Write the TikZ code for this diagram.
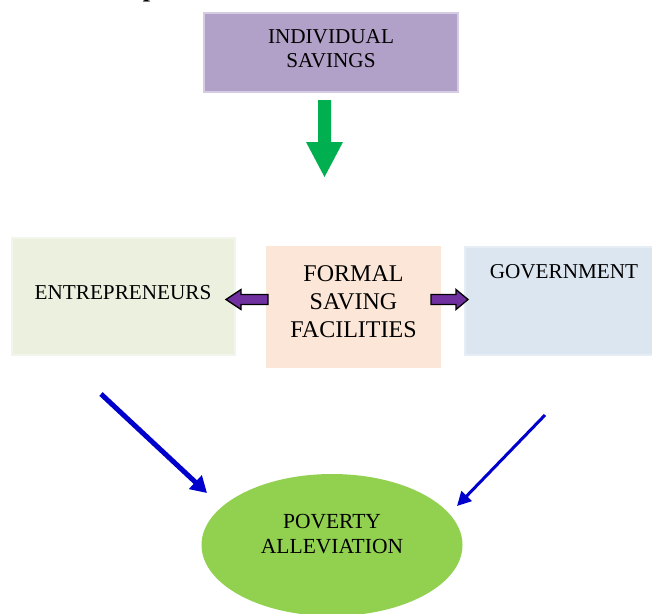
\documentclass[tikz,border=0pt]{standalone}
\usepackage{fontspec}
\setmainfont{Liberation Serif}
\usetikzlibrary{shapes.geometric,arrows.meta}
\definecolor{purplebox}{HTML}{B1A0C7}
\definecolor{purpleedge}{HTML}{D5CBE3}
\definecolor{greenbox}{HTML}{EBF1DE}
\definecolor{greenedge}{HTML}{F2F5EC}
\definecolor{peachbox}{HTML}{FCE6D7}
\definecolor{bluebox}{HTML}{DCE6F1}
\definecolor{blueedge}{HTML}{E6EDF5}
\definecolor{ellgreen}{HTML}{92D050}
\definecolor{arrowgreen}{HTML}{00B050}
\definecolor{arrowpurple}{HTML}{7030A0}
\definecolor{arrowblue}{HTML}{0000CC}
\tikzset{
  box/.style={draw, line width=1.2pt, rectangle, inner sep=0pt},
  label21/.style={font=\fontsize{21.2}{24}\selectfont, align=center},
  barrow/.style={fill=arrowpurple, draw=black, line width=1.3pt, line join=miter},
  bluearrow/.style={draw=arrowblue}
}
\begin{document}
\begin{tikzpicture}[x=1pt,y=-1pt]
\useasboundingbox (0,0) rectangle (652,613);
% cut-off heading letter
\node[font=\bfseries\fontsize{26}{30}\selectfont, anchor=base] (head) at (150,-3) {p};
% boxes
\node[box, fill=purplebox, draw=purpleedge, minimum width=254pt, minimum height=79pt] (ind) at (331,52.5) {};
\node[label21] (indt) at (331,49) {INDIVIDUAL\\SAVINGS};
\node[box, fill=greenbox, draw=greenedge, minimum width=223pt, minimum height=117pt] (ent) at (123.5,296.5) {};
\node[label21] (entt) at (123,293) {ENTREPRENEURS};
\node[box, fill=peachbox, draw=peachbox, minimum width=173pt, minimum height=120pt] (form) at (353.5,307) {};
\node[font=\fontsize{24}{28}\selectfont, align=center] (formt) at (353.5,302) {FORMAL\\SAVING\\FACILITIES};
\node[box, fill=bluebox, draw=blueedge, minimum width=190pt, minimum height=108pt] (gov) at (560,301) {};
\node[label21] (govt) at (564,272) {GOVERNMENT};
\node[ellipse, fill=ellgreen, minimum width=261pt, minimum height=142pt, inner sep=0pt] (pov) at (332,545) {};
\node[font=\fontsize{21.5}{25}\selectfont, align=center] (povt) at (332,534) {POVERTY\\ALLEVIATION};
% green block arrow
\fill[arrowgreen] (318,100) -- (331,100) -- (331,142) -- (343,142) -- (324.5,177) -- (306,142) -- (318,142) -- cycle;
% purple block arrows
\draw[barrow] (268,294.5) -- (241,294.5) -- (241,289.5) -- (226,299.5) -- (241,309.5) -- (241,304.5) -- (268,304.5) -- cycle;
\draw[barrow] (431,294.5) -- (456,294.5) -- (456,289.5) -- (468,299.5) -- (456,309.5) -- (456,304.5) -- (431,304.5) -- cycle;
% blue arrows
\coordinate (b1s) at (101,394);
\coordinate (b1e) at (207,493);
\coordinate (b2s) at (545,415);
\coordinate (b2e) at (457,506);
\draw[bluearrow, line width=5pt, -{Triangle[length=16pt,width=18pt]}] (b1s) -- (b1e);
\draw[bluearrow, line width=3pt, -{Triangle[length=14pt,width=14pt]}] (b2s) -- (b2e);
\end{tikzpicture}
\end{document}
